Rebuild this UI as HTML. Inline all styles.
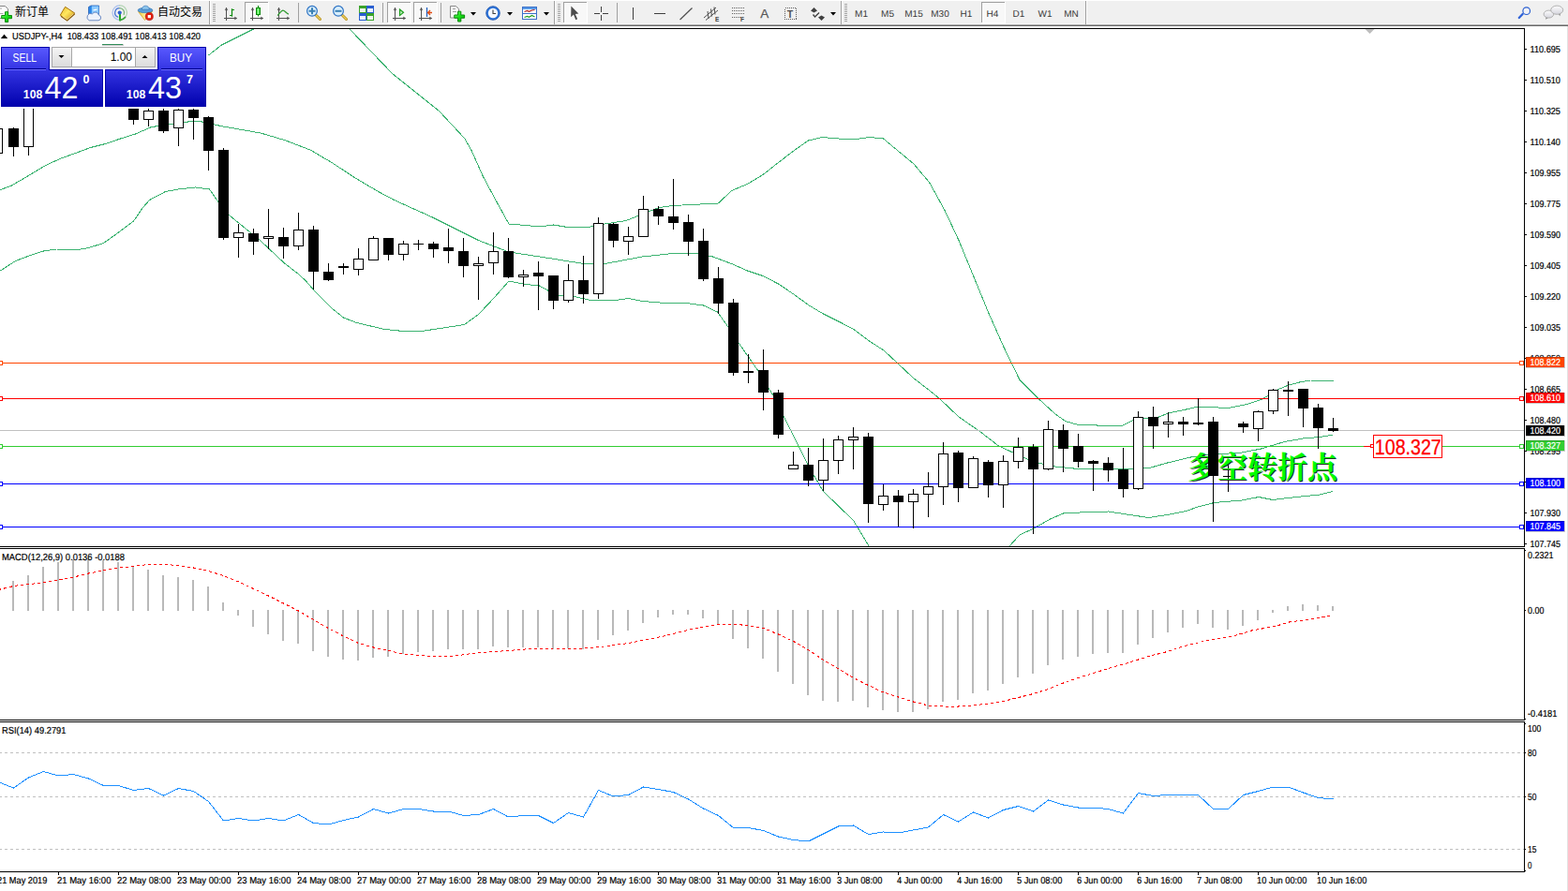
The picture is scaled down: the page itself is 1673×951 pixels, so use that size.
<!DOCTYPE html>
<html><head><meta charset="utf-8"><title>USDJPY-,H4</title>
<style>
html,body{margin:0;padding:0}
body{width:1673px;height:951px;overflow:hidden;background:#fff;position:relative;font-family:"Liberation Sans",sans-serif}
svg{position:absolute;left:0;top:0;display:block}
svg text{font-family:"Liberation Sans",sans-serif}
</style></head><body>
<svg id="chart" width="1673" height="951" viewBox="0 0 1673 951" shape-rendering="crispEdges">
<defs><clipPath id="cm"><rect x="0" y="31" width="1626" height="553"/></clipPath></defs>
<g clip-path="url(#cm)">
<g fill="none" stroke="#3cb371" stroke-width="1">
<polyline points="222.5,59 236.5,48 250.5,41 268.5,32 272.5,30"/>
<polyline points="371.5,28.5 373.5,31.5 418.5,78.5 468.5,118.5 495.5,147.5 503,160.5 515.5,188.5 530.5,216.5 543,239 560.5,240.5 575.5,242 590.5,240 605.5,242.5 628,242.5 635.5,240.5 668,235.5 680.5,230.5 703,221.5 718,219.5 766.5,217 780.5,203.5 797.5,196.5 814,186.5 830.5,173.5 847.5,160.5 862.5,150 877.5,146.5 894.5,148 909.5,149 927.5,146.5 942.5,148 957.5,160.5 974.5,174.5 991.5,194.5 1008,224.5 1023,256.5 1040,298 1055,334.5 1071.5,371.5 1079.5,388 1088,405.5 1108,425.5 1125.5,441.5 1136.5,449.5 1150.5,453.5 1170.5,454 1198,454 1210.5,448 1225.5,446.5 1236.5,445 1246.5,441 1265.5,437 1278,434 1310.5,435.5 1330.5,431.5 1345.5,426.5 1353.5,422 1363,416 1375,411 1386.5,408 1398.5,406 1422.5,406"/>
<polyline points="0.5,202.5 12.5,198 30.5,187.5 50.5,175.5 66.5,168.5 80.5,163.5 96.5,157.5 112.5,153.5 128.5,148 144.5,143 160.5,136 170.5,134 190.5,132 200.5,130 208.5,129.5 215.5,130 226.5,132.5 240.5,135.5 252.5,137.5 278,142 303.5,149.5 331,160 354,173.5 379,190 404.5,205 420.5,213.5 460.5,231.5 510.5,256.5 543,269 585.5,275.5 623,281.5 635.5,282 648,281 685.5,274 718,270.5 743,270.5 760.5,274 780.5,281.5 797.5,289 814,294.5 830.5,303 847.5,314.5 862.5,325.5 877.5,334.5 894.5,343 911,351.5 927.5,364 943,374 958,388 974.5,403.5 991.5,416.5 1003,426 1023,445 1045.5,460.5 1065.5,476 1083,484 1103,493 1125.5,498 1145.5,500 1170.5,500 1198,501 1228,499 1245.5,494 1270.5,488 1290.5,485.5 1325.5,483 1345.5,479 1370.5,471.5 1390.5,468 1408,466.5 1422.5,464"/>
<polyline points="0.5,289 16.5,278.5 32.5,272.5 46.5,268 60.5,266 70.5,266 80.5,267 94.5,264.5 110.5,259.5 124.5,249.5 142.5,236 152.5,221.5 159.5,213.5 176.5,204.5 190.5,202 208.5,200 223.5,202 233.5,216.5 242.5,228 278,257 303.5,281 318.5,292.5 326.5,300 335,310 354,329 366.5,339 380.5,344.5 410.5,351.5 425.5,353 453,353 495.5,346.5 510.5,335.5 522.5,323 543,300 560.5,303.5 575.5,305 585.5,310.5 595.5,315 610.5,316 630.5,320.5 660.5,320 670.5,318.5 685.5,321.5 710.5,323.5 735.5,324 750.5,326 765.5,333 778,350.5 790.5,369.5 808,394.5 825.5,423 845.5,463 863,498 878,524 910.5,555.5 928,584.5 930.5,588.5"/>
<polyline points="1072.5,588.5 1075.5,584.5 1088,571 1103,564 1120.5,554 1134.5,548 1160.5,546.5 1183,546 1195.5,548 1225.5,552.5 1245.5,549.5 1265.5,545.5 1278,541 1295.5,536.5 1325.5,534 1343,530.5 1358,533.5 1383,530.5 1408,528 1422.5,524.5"/>
</g>
<rect x="0" y="387" width="1626" height="1" fill="#ff4500"/>
<rect x="0" y="425" width="1626" height="1" fill="#ff0000"/>
<rect x="0" y="459" width="1626" height="1" fill="#c0c0c0"/>
<rect x="0" y="476" width="1626" height="1" fill="#32cd32"/>
<rect x="0" y="516" width="1626" height="1" fill="#0000ff"/>
<rect x="0" y="562" width="1626" height="1" fill="#0000ff"/>
<path d="M-2.5 130V170M14.5 136V167M30.5 90V166M142.5 100V133M158.5 116V135M174.5 116V142M190.5 116V156M206.5 116V149M222.5 124V182M238.5 158V256M254.5 239V275M270.5 244V272M286.5 223V266M302.5 243V276M318.5 227V267M334.5 241V309M350.5 281V300M366.5 281V293M382.5 265V294M398.5 252V278M414.5 254V278M430.5 257V278M446.5 256V267M462.5 258V275M478.5 244V281M494.5 254V296M510.5 274V320M526.5 248V293M542.5 254V297M558.5 288V306M574.5 279V331M590.5 294V330M606.5 282V323M622.5 273V324M638.5 232V319M654.5 238V264M670.5 242V272M686.5 209V253M702.5 220V240M718.5 191V245M734.5 229V273M750.5 244V300M766.5 285V335M782.5 319V401M798.5 378V409M814.5 373V438M830.5 416V468M846.5 482V501M862.5 478V519M878.5 468V524M894.5 465V506M910.5 456V501M926.5 462V558M942.5 517V545M958.5 523V562M974.5 522V564M990.5 504V552M1006.5 472V539M1022.5 481V536M1038.5 487V521M1054.5 491V531M1070.5 486V542M1086.5 467V500M1102.5 474V570M1118.5 449V502M1134.5 453V504M1150.5 463V499M1166.5 491V524M1182.5 488V514M1198.5 478V531M1214.5 439V523M1230.5 434V479M1246.5 440V467M1262.5 445V465M1278.5 425V454M1294.5 445V557M1310.5 493V525M1326.5 450V462M1342.5 438V471M1358.5 415V442M1374.5 407V444M1390.5 415V456M1406.5 431V479M1422.5 446V461" stroke="#000" stroke-width="1" fill="none"/>
<path d="M9 137h11v20h-11zM137 105h11v23h-11zM169 118h11v22h-11zM201 117h11v9h-11zM217 125h11v36h-11zM233 160h11v94h-11zM265 249h11v9h-11zM297 253h11v10h-11zM329 245h11v45h-11zM345 290h11v9h-11zM361 284h11v2h-11zM409 254h11v18h-11zM441 260h11v1h-11zM457 260h11v6h-11zM473 264h11v4h-11zM489 268h11v16h-11zM537 268h11v28h-11zM569 291h11v4h-11zM585 294h11v27h-11zM617 299h11v15h-11zM649 239h11v18h-11zM697 223h11v8h-11zM713 231h11v7h-11zM729 237h11v21h-11zM745 257h11v41h-11zM761 297h11v27h-11zM777 323h11v75h-11zM793 396h11v2h-11zM809 395h11v24h-11zM825 419h11v45h-11zM857 496h11v17h-11zM921 466h11v72h-11zM953 529h11v7h-11zM1017 483h11v38h-11zM1049 493h11v25h-11zM1097 477h11v24h-11zM1129 459h11v20h-11zM1145 476h11v17h-11zM1161 492h11v3h-11zM1177 494h11v8h-11zM1193 501h11v21h-11zM1225 445h11v10h-11zM1257 450h11v3h-11zM1273 451h11v2h-11zM1289 450h11v58h-11zM1305 508h11v1h-11zM1321 452h11v4h-11zM1369 416h11v2h-11zM1385 415h11v21h-11zM1401 435h11v22h-11zM1417 457h11v3h-11z" fill="#000"/>
<g fill="#fff" stroke="#000" stroke-width="1"><rect x="-7.5" y="137.5" width="10" height="26"/><rect x="25.5" y="95.5" width="10" height="61"/><rect x="153.5" y="118.5" width="10" height="9"/><rect x="185.5" y="117.5" width="10" height="19"/><rect x="249.5" y="248.5" width="10" height="5"/><rect x="281.5" y="252.5" width="10" height="2"/><rect x="313.5" y="245.5" width="10" height="17"/><rect x="377.5" y="276.5" width="10" height="11"/><rect x="393.5" y="254.5" width="10" height="23"/><rect x="425.5" y="260.5" width="10" height="11"/><rect x="505.5" y="281.5" width="10" height="2"/><rect x="521.5" y="268.5" width="10" height="12"/><rect x="553.5" y="293.5" width="10" height="2"/><rect x="601.5" y="299.5" width="10" height="21"/><rect x="633.5" y="238.5" width="10" height="75"/><rect x="665.5" y="252.5" width="10" height="5"/><rect x="681.5" y="223.5" width="10" height="29"/><rect x="841.5" y="496.5" width="10" height="4"/><rect x="873.5" y="491.5" width="10" height="21"/><rect x="889.5" y="469.5" width="10" height="22"/><rect x="905.5" y="466.5" width="10" height="3"/><rect x="937.5" y="529.5" width="10" height="9"/><rect x="969.5" y="527.5" width="10" height="8"/><rect x="985.5" y="519.5" width="10" height="8"/><rect x="1001.5" y="484.5" width="10" height="35"/><rect x="1033.5" y="489.5" width="10" height="31"/><rect x="1065.5" y="492.5" width="10" height="25"/><rect x="1081.5" y="477.5" width="10" height="15"/><rect x="1113.5" y="458.5" width="10" height="42"/><rect x="1209.5" y="445.5" width="10" height="76"/><rect x="1241.5" y="450.5" width="10" height="2"/><rect x="1337.5" y="439.5" width="10" height="18"/><rect x="1353.5" y="416.5" width="10" height="22"/></g>
<g shape-rendering="auto" transform="translate(1266,510)" font-size="32" font-weight="bold" style="font-family:'Liberation Serif','Noto Serif CJK SC',serif"><text x="2" y="1" fill="#1c301c" textLength="160" lengthAdjust="spacingAndGlyphs" style="font-family:'Liberation Serif','Noto Serif CJK SC',serif">多空转折点</text><text x="1" y="0" fill="#00ff00" textLength="160" lengthAdjust="spacingAndGlyphs" style="font-family:'Liberation Serif','Noto Serif CJK SC',serif">多空转折点</text></g>
<path d="M1294.5 445V557" stroke="#000" stroke-width="1" fill="none"/>
<path d="M1289 450h11v58h-11z" fill="#000"/>
<g fill="#fff" stroke="#000" stroke-width="1"></g>
</g>
<rect x="-1.5" y="385.5" width="4" height="4" fill="#fff" stroke="#ff4500"/>
<rect x="1621.5" y="385.5" width="4" height="4" fill="#fff" stroke="#ff4500"/>
<rect x="-1.5" y="423.5" width="4" height="4" fill="#fff" stroke="#ff0000"/>
<rect x="1621.5" y="423.5" width="4" height="4" fill="#fff" stroke="#ff0000"/>
<rect x="-1.5" y="474.5" width="4" height="4" fill="#fff" stroke="#32cd32"/>
<rect x="1621.5" y="474.5" width="4" height="4" fill="#fff" stroke="#32cd32"/>
<rect x="-1.5" y="514.5" width="4" height="4" fill="#fff" stroke="#0000ff"/>
<rect x="1621.5" y="514.5" width="4" height="4" fill="#fff" stroke="#0000ff"/>
<rect x="-1.5" y="560.5" width="4" height="4" fill="#fff" stroke="#0000ff"/>
<rect x="1621.5" y="560.5" width="4" height="4" fill="#fff" stroke="#0000ff"/>
<rect x="1455" y="476" width="8" height="1" fill="#ff0000"/>
<rect x="1462.5" y="474.5" width="3" height="3" fill="#fff" stroke="#ff0000"/>
<rect x="1465.5" y="464.5" width="73" height="24" fill="#fff" stroke="#ff0000"/>
<path d="M1456.5 31h10l-5 5z" fill="#bcbcbc" shape-rendering="auto"/>
<path d="M13 620h2V652h-2zM29 614h2V652h-2zM45 605h2V652h-2zM61 600h2V652h-2zM77 597h2V652h-2zM93 596h2V652h-2zM109 598h2V652h-2zM125 600h2V652h-2zM141 605h2V652h-2zM157 608h2V652h-2zM173 614h2V652h-2zM189 616h2V652h-2zM205 619h2V652h-2zM221 626h2V652h-2zM237 643h2V652h-2zM253 651h2V657h-2zM269 651h2V669h-2zM285 651h2V677h-2zM301 651h2V684h-2zM317 651h2V687h-2zM333 651h2V695h-2zM349 651h2V701h-2zM365 651h2V704h-2zM381 651h2V705h-2zM397 651h2V702h-2zM413 651h2V701h-2zM429 651h2V698h-2zM445 651h2V696h-2zM461 651h2V695h-2zM477 651h2V693h-2zM493 651h2V693h-2zM509 651h2V693h-2zM525 651h2V690h-2zM541 651h2V691h-2zM557 651h2V691h-2zM573 651h2V691h-2zM589 651h2V693h-2zM605 651h2V692h-2zM621 651h2V693h-2zM637 651h2V683h-2zM653 651h2V678h-2zM669 651h2V673h-2zM685 651h2V665h-2zM701 651h2V659h-2zM717 651h2V656h-2zM733 651h2V656h-2zM749 651h2V660h-2zM765 651h2V666h-2zM781 651h2V682h-2zM797 651h2V692h-2zM813 651h2V703h-2zM829 651h2V717h-2zM845 651h2V730h-2zM861 651h2V742h-2zM877 651h2V748h-2zM893 651h2V749h-2zM909 651h2V748h-2zM925 651h2V755h-2zM941 651h2V758h-2zM957 651h2V760h-2zM973 651h2V760h-2zM989 651h2V757h-2zM1005 651h2V749h-2zM1021 651h2V747h-2zM1037 651h2V740h-2zM1053 651h2V737h-2zM1069 651h2V730h-2zM1085 651h2V723h-2zM1101 651h2V719h-2zM1117 651h2V710h-2zM1133 651h2V704h-2zM1149 651h2V701h-2zM1165 651h2V698h-2zM1181 651h2V697h-2zM1197 651h2V697h-2zM1213 651h2V688h-2zM1229 651h2V681h-2zM1245 651h2V675h-2zM1261 651h2V670h-2zM1277 651h2V666h-2zM1293 651h2V670h-2zM1309 651h2V672h-2zM1325 651h2V668h-2zM1341 651h2V662h-2zM1357 651h2V654h-2zM1373 647h2V652h-2zM1389 645h2V652h-2zM1405 646h2V652h-2zM1421 647h2V652h-2z" fill="#b9b9b9"/>
<polyline points="-1.5,629.5 14.5,625.5 30.5,623.5 46.5,622 62.5,619 78.5,616 94.5,612 110.5,609 126.5,606 142.5,604.5 158.5,602.5 174.5,602.5 190.5,603.5 206.5,606 222.5,609.5 238.5,614.5 254.5,621 270.5,628.5 286.5,636 302.5,644 318.5,652 334.5,661.5 350.5,670.5 366.5,679 382.5,686.5 398.5,691 414.5,694.5 430.5,698 455.5,700 485.5,700 510.5,696.5 535.5,695 560.5,693 590.5,692 623,692 640.5,690.5 670.5,686.5 690.5,682.5 710.5,678.5 735.5,672 750.5,669 768,666 785.5,666 800.5,668.5 814.5,670.5 830.5,677 846.5,684.5 862.5,693.5 878.5,704.5 894.5,714 910.5,723.5 926.5,731.5 942.5,739 958.5,744 974.5,749 990.5,753 1006.5,754 1022.5,754 1038.5,753 1054.5,751 1070.5,748.5 1086.5,744.5 1102.5,740.5 1118.5,735.5 1134.5,729 1150.5,723.5 1166.5,718.5 1182.5,713.5 1198.5,709 1214.5,704 1225.5,700.5 1245.5,695.5 1260.5,690.5 1285.5,684 1315.5,679 1335.5,673 1360.5,668.5 1375.5,664 1400.5,660.5 1422.5,656.5" fill="none" stroke="#ff0000" stroke-width="1" stroke-dasharray="3 3"/>
<path d="M-1 803.5H1626" stroke="#c0c0c0" stroke-width="1" stroke-dasharray="3 3"/>
<path d="M-1 850.5H1626" stroke="#c0c0c0" stroke-width="1" stroke-dasharray="3 3"/>
<path d="M-1 906.5H1626" stroke="#c0c0c0" stroke-width="1" stroke-dasharray="3 3"/>
<polyline points="0.5,835.5 14.5,841 30.5,830 46.5,823.5 62.5,828 78.5,826.5 94.5,831 110.5,838.5 126.5,838.5 142.5,843.5 158.5,841.5 174.5,849 190.5,841.5 206.5,844.5 222.5,855.5 238.5,876 254.5,873.5 270.5,876 286.5,873.5 302.5,876 318.5,869.5 334.5,878.5 350.5,880 366.5,875.5 382.5,872 398.5,863.5 414.5,868 430.5,863.5 446.5,863.5 462.5,866 478.5,866 494.5,870.5 510.5,869.5 526.5,863.5 542.5,872 558.5,870.5 574.5,870.5 590.5,878.5 606.5,867.5 622.5,872 638.5,843.5 654.5,850 670.5,848.5 686.5,840 702.5,842.5 718.5,845.5 734.5,853 750.5,863 766.5,870.5 782.5,883.5 798.5,883.5 814.5,886.5 830.5,893 846.5,896.5 862.5,898 878.5,890 894.5,882 910.5,881 926.5,890.5 942.5,888 958.5,889 974.5,886 990.5,883 1006.5,869.5 1022.5,877 1038.5,867 1054.5,873 1070.5,864.5 1086.5,860.5 1102.5,866 1118.5,854 1134.5,859 1150.5,862 1166.5,862 1182.5,863.5 1198.5,868 1214.5,846.5 1230.5,849.5 1246.5,848.5 1262.5,848.5 1278.5,848.5 1294.5,863.5 1310.5,863.5 1326.5,848.5 1342.5,844.5 1358.5,840 1374.5,840 1390.5,846 1406.5,851.5 1422.5,853" fill="none" stroke="#1e90ff" stroke-width="1"/>
<rect x="0" y="30" width="1627" height="1" fill="#000"/>
<rect x="1626" y="30" width="1" height="554" fill="#000"/>
<rect x="1626" y="585" width="1" height="184" fill="#000"/>
<rect x="1626" y="770" width="1" height="161" fill="#000"/>
<rect x="0" y="583" width="1627" height="1" fill="#000"/>
<rect x="0" y="585" width="1627" height="1" fill="#000"/>
<rect x="0" y="768" width="1627" height="1" fill="#000"/>
<rect x="0" y="770" width="1627" height="1" fill="#000"/>
<rect x="0" y="930" width="1627" height="1" fill="#000"/>
<rect x="1672" y="28" width="1" height="923" fill="#e3e3e3"/>
<path d="M-2.5 931v3M62.5 931v3M126.5 931v3M190.5 931v3M254.5 931v3M318.5 931v3M382.5 931v3M446.5 931v3M510.5 931v3M574.5 931v3M638.5 931v3M702.5 931v3M766.5 931v3M830.5 931v3M894.5 931v3M958.5 931v3M1022.5 931v3M1086.5 931v3M1150.5 931v3M1214.5 931v3M1278.5 931v3M1342.5 931v3M1406.5 931v3" stroke="#000" stroke-width="1"/>
<path d="M1627 52.5h2M1627 85.5h2M1627 118.5h2M1627 151.5h2M1627 184.5h2M1627 217.5h2M1627 250.5h2M1627 283.5h2M1627 316.5h2M1627 349.5h2M1627 382.5h2M1627 415.5h2M1627 448.5h2M1627 481.5h2M1627 514.5h2M1627 547.5h2M1627 580.5h2M1627 651.5h1M1627 803.5h1M1627 850.5h1M1627 906.5h1M1627 587.5h1M1627 767.5h1M1627 772.5h1M1627 929.5h1" stroke="#000" stroke-width="1"/>
<g shape-rendering="auto" font-family="Liberation Sans, sans-serif" font-size="10.2" fill="#000" stroke="#000" stroke-width=".2" text-rendering="geometricPrecision">
<text x="1632.5" y="56" textLength="32.4" lengthAdjust="spacingAndGlyphs">110.695</text>
<text x="1632.5" y="89" textLength="32.4" lengthAdjust="spacingAndGlyphs">110.510</text>
<text x="1632.5" y="122" textLength="32.4" lengthAdjust="spacingAndGlyphs">110.325</text>
<text x="1632.5" y="155" textLength="32.4" lengthAdjust="spacingAndGlyphs">110.140</text>
<text x="1632.5" y="188" textLength="32.4" lengthAdjust="spacingAndGlyphs">109.955</text>
<text x="1632.5" y="221" textLength="32.4" lengthAdjust="spacingAndGlyphs">109.775</text>
<text x="1632.5" y="254" textLength="32.4" lengthAdjust="spacingAndGlyphs">109.590</text>
<text x="1632.5" y="287" textLength="32.4" lengthAdjust="spacingAndGlyphs">109.405</text>
<text x="1632.5" y="320" textLength="32.4" lengthAdjust="spacingAndGlyphs">109.220</text>
<text x="1632.5" y="353" textLength="32.4" lengthAdjust="spacingAndGlyphs">109.035</text>
<text x="1632.5" y="386" textLength="32.4" lengthAdjust="spacingAndGlyphs">108.850</text>
<text x="1632.5" y="419" textLength="32.4" lengthAdjust="spacingAndGlyphs">108.665</text>
<text x="1632.5" y="452" textLength="32.4" lengthAdjust="spacingAndGlyphs">108.480</text>
<text x="1632.5" y="485" textLength="32.4" lengthAdjust="spacingAndGlyphs">108.295</text>
<text x="1632.5" y="518" textLength="32.4" lengthAdjust="spacingAndGlyphs">108.110</text>
<text x="1632.5" y="551" textLength="32.4" lengthAdjust="spacingAndGlyphs">107.930</text>
<text x="1632.5" y="584" textLength="32.4" lengthAdjust="spacingAndGlyphs">107.745</text>
<text x="1630" y="596" textLength="27.4" lengthAdjust="spacingAndGlyphs">0.2321</text>
<text x="1630" y="655" textLength="17.4" lengthAdjust="spacingAndGlyphs">0.00</text>
<text x="1630" y="765" textLength="31.4" lengthAdjust="spacingAndGlyphs">-0.4181</text>
<text x="1630" y="781" textLength="14.4" lengthAdjust="spacingAndGlyphs">100</text>
<text x="1630" y="807" textLength="9.4" lengthAdjust="spacingAndGlyphs">80</text>
<text x="1630" y="854" textLength="9.4" lengthAdjust="spacingAndGlyphs">50</text>
<text x="1630" y="910" textLength="9.4" lengthAdjust="spacingAndGlyphs">15</text>
<text x="1630" y="927" textLength="4.4" lengthAdjust="spacingAndGlyphs">0</text>
<text x="-3" y="943" textLength="53.4" lengthAdjust="spacingAndGlyphs">21 May 2019</text>
<text x="61" y="943" textLength="57.4" lengthAdjust="spacingAndGlyphs">21 May 16:00</text>
<text x="125" y="943" textLength="57.4" lengthAdjust="spacingAndGlyphs">22 May 08:00</text>
<text x="189" y="943" textLength="57.4" lengthAdjust="spacingAndGlyphs">23 May 00:00</text>
<text x="253" y="943" textLength="57.4" lengthAdjust="spacingAndGlyphs">23 May 16:00</text>
<text x="317" y="943" textLength="57.4" lengthAdjust="spacingAndGlyphs">24 May 08:00</text>
<text x="381" y="943" textLength="57.4" lengthAdjust="spacingAndGlyphs">27 May 00:00</text>
<text x="445" y="943" textLength="57.4" lengthAdjust="spacingAndGlyphs">27 May 16:00</text>
<text x="509" y="943" textLength="57.4" lengthAdjust="spacingAndGlyphs">28 May 08:00</text>
<text x="573" y="943" textLength="57.4" lengthAdjust="spacingAndGlyphs">29 May 00:00</text>
<text x="637" y="943" textLength="57.4" lengthAdjust="spacingAndGlyphs">29 May 16:00</text>
<text x="701" y="943" textLength="57.4" lengthAdjust="spacingAndGlyphs">30 May 08:00</text>
<text x="765" y="943" textLength="57.4" lengthAdjust="spacingAndGlyphs">31 May 00:00</text>
<text x="829" y="943" textLength="57.4" lengthAdjust="spacingAndGlyphs">31 May 16:00</text>
<text x="893" y="943" textLength="48.4" lengthAdjust="spacingAndGlyphs">3 Jun 08:00</text>
<text x="957" y="943" textLength="48.4" lengthAdjust="spacingAndGlyphs">4 Jun 00:00</text>
<text x="1021" y="943" textLength="48.4" lengthAdjust="spacingAndGlyphs">4 Jun 16:00</text>
<text x="1085" y="943" textLength="48.4" lengthAdjust="spacingAndGlyphs">5 Jun 08:00</text>
<text x="1149" y="943" textLength="48.4" lengthAdjust="spacingAndGlyphs">6 Jun 00:00</text>
<text x="1213" y="943" textLength="48.4" lengthAdjust="spacingAndGlyphs">6 Jun 16:00</text>
<text x="1277" y="943" textLength="48.4" lengthAdjust="spacingAndGlyphs">7 Jun 08:00</text>
<text x="1341" y="943" textLength="53.4" lengthAdjust="spacingAndGlyphs">10 Jun 00:00</text>
<text x="1405" y="943" textLength="53.4" lengthAdjust="spacingAndGlyphs">10 Jun 16:00</text>
<text x="2" y="597.5" textLength="131" lengthAdjust="spacingAndGlyphs">MACD(12,26,9) 0.0136 -0.0188</text>
<text x="2" y="782.5" textLength="68.5" lengthAdjust="spacingAndGlyphs">RSI(14) 49.2791</text>
<text x="13" y="42" textLength="201" lengthAdjust="spacingAndGlyphs" xml:space="preserve">USDJPY-,H4  108.433 108.491 108.413 108.420</text>
<path d="M1 41L4.5 36.7L8 41z" fill="#000"/>
<rect x="109" y="47" width="22" height="1" fill="#3cb371" shape-rendering="crispEdges"/>
<rect x="1628" y="381" width="41" height="11" fill="#ff4500" shape-rendering="crispEdges"/>
<text x="1632.5" y="390" textLength="32.4" lengthAdjust="spacingAndGlyphs" fill="#fff" stroke="#fff">108.822</text>
<rect x="1628" y="419" width="41" height="11" fill="#ff0000" shape-rendering="crispEdges"/>
<text x="1632.5" y="428" textLength="32.4" lengthAdjust="spacingAndGlyphs" fill="#fff" stroke="#fff">108.610</text>
<rect x="1628" y="454" width="41" height="11" fill="#000" shape-rendering="crispEdges"/>
<text x="1632.5" y="463" textLength="32.4" lengthAdjust="spacingAndGlyphs" fill="#fff" stroke="#fff">108.420</text>
<rect x="1628" y="470" width="41" height="11" fill="#32cd32" shape-rendering="crispEdges"/>
<text x="1632.5" y="479" textLength="32.4" lengthAdjust="spacingAndGlyphs" fill="#fff" stroke="#fff">108.327</text>
<rect x="1628" y="510" width="41" height="11" fill="#0000ff" shape-rendering="crispEdges"/>
<text x="1632.5" y="519" textLength="32.4" lengthAdjust="spacingAndGlyphs" fill="#fff" stroke="#fff">108.100</text>
<rect x="1628" y="556" width="41" height="11" fill="#0000ff" shape-rendering="crispEdges"/>
<text x="1632.5" y="565" textLength="32.4" lengthAdjust="spacingAndGlyphs" fill="#fff" stroke="#fff">107.845</text>
<text x="1466.8" y="485.2" font-size="23" fill="#ff0000" stroke="#ff0000" stroke-width=".3" textLength="71" lengthAdjust="spacingAndGlyphs">108.327</text>
</g>
</svg>
<svg id="panel" width="240" height="120" viewBox="0 0 240 120">
<defs>
<linearGradient id="gb" gradientUnits="userSpaceOnUse" x1="0" y1="50" x2="0" y2="114"><stop offset="0" stop-color="#5a5aff"/><stop offset="0.38" stop-color="#3434e2"/><stop offset="1" stop-color="#0000ac"/></linearGradient>
<linearGradient id="gg" x1="0" y1="0" x2="0" y2="1"><stop offset="0" stop-color="#f4f4f4"/><stop offset="1" stop-color="#dcdcdc"/></linearGradient>
</defs>
<g shape-rendering="crispEdges">
<rect x="0" y="49" width="222" height="67" fill="#fff"/>
<path d="M1.5 50.5H52.5V74.5H109.5V113.5H1.5z" fill="url(#gb)" stroke="#0000a8"/>
<path d="M168.5 50.5H219.5V113.5H112.5V74.5H168.5z" fill="url(#gb)" stroke="#0000a8"/>
<rect x="5" y="73" width="44" height="1" fill="#00008c"/><rect x="5" y="74" width="44" height="1" fill="#6c6cff"/>
<rect x="172" y="73" width="44" height="1" fill="#00008c"/><rect x="172" y="74" width="44" height="1" fill="#6c6cff"/>
<rect x="55.5" y="50.5" width="110" height="21" fill="#fff" stroke="#a8a8a8"/>
<rect x="56" y="51" width="20" height="20" fill="url(#gg)"/>
<rect x="145" y="51" width="20" height="20" fill="url(#gg)"/>
<rect x="76" y="51" width="1" height="20" fill="#a8a8a8"/>
<rect x="144" y="51" width="1" height="20" fill="#a8a8a8"/>
</g>
<path d="M62.5 59h6l-3 3z" fill="#000"/>
<path d="M151.5 62h6l-3-3z" fill="#000"/>
<g fill="#fff">
<text x="13.5" y="66" font-size="12.3" textLength="25.5" lengthAdjust="spacingAndGlyphs">SELL</text>
<text x="181" y="66" font-size="12.3" textLength="24" lengthAdjust="spacingAndGlyphs">BUY</text>
<text x="24.8" y="105" font-size="12.5" font-weight="bold" textLength="20.5" lengthAdjust="spacingAndGlyphs">108</text>
<text x="47.5" y="105" font-size="34" textLength="36" lengthAdjust="spacingAndGlyphs">42</text>
<text x="88.5" y="89" font-size="12.5" font-weight="bold">0</text>
<text x="134.8" y="105" font-size="12.5" font-weight="bold" textLength="20.5" lengthAdjust="spacingAndGlyphs">108</text>
<text x="158" y="105" font-size="34" textLength="36" lengthAdjust="spacingAndGlyphs">43</text>
<text x="199" y="89" font-size="12.5" font-weight="bold">7</text>
</g>
<text x="141" y="64.5" font-size="12" fill="#000" text-anchor="end">1.00</text>
</svg>
<svg id="toolbar" width="1673" height="30" viewBox="0 0 1673 30">
<g shape-rendering="crispEdges"><rect x="0" y="0" width="1673" height="26" fill="#f0f0f0"/>
<rect x="0" y="0" width="1673" height="1" fill="#fff"/>
<rect x="0" y="25" width="1673" height="1" fill="#f6f6f6"/>
<rect x="0" y="26" width="1673" height="1" fill="#a8a8a8"/>
<rect x="0" y="27" width="1673" height="1" fill="#6a6a6a"/></g>
<defs><linearGradient id="gp" x1="0" y1="0" x2="1" y2="1"><stop offset="0" stop-color="#7dff7d"/><stop offset="0.5" stop-color="#18e018"/><stop offset="1" stop-color="#08b008"/></linearGradient></defs>
<g><path d="M-4 6.5H5.5L8.5 9.5V19.5H-4z" fill="#fdfdfd" stroke="#858585"/><path d="M-2 9H2M-2 14.5H3.5" stroke="#a8a8a8" stroke-width="1.2"/><path d="M5.5 12.7h3.2v3.8h3.8v3.2h-3.8v3.8h-3.2v-3.8h-3.8v-3.2h3.8z" fill="url(#gp)" stroke="#0a8a0a" stroke-width="1"/></g>
<text x="16" y="16.9" font-size="12" fill="#000" style="font-family:'Liberation Sans','Noto Sans CJK SC',sans-serif">新订单</text>
<defs><linearGradient id="yb" x1="0" y1="0" x2="1" y2="1"><stop offset="0" stop-color="#e8b830"/><stop offset="0.45" stop-color="#ffe860"/><stop offset="1" stop-color="#c98a12"/></linearGradient></defs>
<path d="M69.6 7.3L79.7 14L71.5 21.5L64.3 16.2C66 13 68 10 69.6 7.3z" fill="url(#yb)" stroke="#a87510" stroke-width="1"/><path d="M65 17.2L71.7 22L79.7 14.8" fill="none" stroke="#8a5a08" stroke-width="1.3"/><path d="M66.5 17.3L71.6 20.8L78.5 14.7" fill="none" stroke="#fff2c0" stroke-width=".7"/>
<g><path d="M94.5 7.5l2.5-1.5h8.5v9.5h-11z" fill="#2a86e8" stroke="#2a62b8" stroke-width=".8"/><path d="M97.8 6.5h7.5v9h-7.5z" fill="#8ccaff"/><path d="M99.5 10.2l4-.8v1.3l-4 .8z" fill="#fff"/><path d="M95.2 21.8h9.8a2.9 2.9 0 0 0 .4-5.7a3.8 3.8 0 0 0-6.9-1.3a3.5 3.5 0 0 0-3.3 7z" fill="#eef3fc" stroke="#5f7fbc" stroke-width=".9"/></g>
<g fill="none" stroke-linecap="round"><path d="M127.7 5.9a7.7 7.7 0 0 0 0 15.4" stroke="#a9bfee" stroke-width="1.2"/><path d="M127.7 5.9a7.7 7.7 0 0 1 5.5 13" stroke="#b5d6b5" stroke-width="1.2"/><path d="M127.7 8.6a5 5 0 0 0-2 9.6" stroke="#4a78d8" stroke-width="1.3"/><path d="M127.7 8.6a5 5 0 0 1 4.5 7" stroke="#7fb87f" stroke-width="1.3"/><path d="M128 14V21.5" stroke="#22aa22" stroke-width="2"/><path d="M128 21.5a8 8 0 0 0 5.5-3" stroke="#3aa53a" stroke-width="1.8"/><circle cx="127.7" cy="13.6" r="2.1" fill="#2f62d0" stroke="none"/></g>
<defs><linearGradient id="hy" x1="0" y1="0" x2="1" y2="0"><stop offset="0" stop-color="#f0c830"/><stop offset="0.5" stop-color="#fff0a0"/><stop offset="1" stop-color="#e8b820"/></linearGradient></defs>
<g><path d="M147.6 12.5L162.5 12.5L154.5 21.5z" fill="url(#hy)" stroke="#c99a20" stroke-width=".7"/><ellipse cx="155" cy="11" rx="7.9" ry="2.7" fill="#5b9fd8" stroke="#3a78b8" stroke-width=".7"/><path d="M151.3 10.3c0-5.5 8-5.5 8 0z" fill="#8cc4ec" stroke="#3a78b8" stroke-width=".7"/><circle cx="159.3" cy="17.6" r="4.1" fill="#e02010" stroke="#a00000" stroke-width=".5"/><rect x="157.7" y="16" width="3.2" height="3.2" fill="#fff"/></g>
<text x="168" y="16.9" font-size="12" fill="#000" style="font-family:'Liberation Sans','Noto Sans CJK SC',sans-serif">自动交易</text>
<rect x="223" y="1" width="1" height="25" fill="#a0a0a0" shape-rendering="crispEdges"/><rect x="224" y="1" width="1" height="25" fill="#fff" shape-rendering="crispEdges"/>
<path d="M227 4.5h3M227 6.5h3M227 8.5h3M227 10.5h3M227 12.5h3M227 14.5h3M227 16.5h3M227 18.5h3M227 20.5h3M227 22.5h3" stroke="#a4a4a4" stroke-width="1" shape-rendering="crispEdges"/>
<g stroke="#505050" stroke-width="1" fill="none"><path d="M241.5 22V8.2M239 19.5H252.5"/><path d="M240.1 10.8l1.4-2.6l1.4 2.6zM250.5 18l2.3 1.5l-2.3 1.5z" fill="#505050" stroke-width=".4"/></g>
<path d="M247.5 9.2v8.6M245 16.5h2.5M247.5 10.5h2.5" stroke="#0a8a0a" stroke-width="1.2" fill="none"/>
<g shape-rendering="crispEdges"><rect x="261" y="2" width="26" height="23" fill="#f8f8f8"/><rect x="261" y="2" width="25" height="1" fill="#a0a0a0"/><rect x="261" y="2" width="1" height="22" fill="#a0a0a0"/><rect x="286" y="2" width="1" height="23" fill="#fff"/><rect x="261" y="24" width="26" height="1" fill="#fff"/></g>
<g stroke="#505050" stroke-width="1" fill="none"><path d="M269.5 22V8.2M267 19.5H280.5"/><path d="M268.1 10.8l1.4-2.6l1.4 2.6zM278.5 18l2.3 1.5l-2.3 1.5z" fill="#505050" stroke-width=".4"/></g>
<defs><linearGradient id="cg" x1="0" y1="0" x2="1" y2="0"><stop offset="0" stop-color="#20d020"/><stop offset="0.5" stop-color="#90ff90"/><stop offset="1" stop-color="#18c818"/></linearGradient></defs><path d="M275.5 6v11.5" stroke="#0a8a0a" stroke-width="1.1"/><rect x="273.5" y="8.5" width="4" height="7" fill="url(#cg)" stroke="#0a8a0a" stroke-width="1"/>
<g stroke="#505050" stroke-width="1" fill="none"><path d="M297.5 22V8.2M295 19.5H308.5"/><path d="M296.1 10.8l1.4-2.6l1.4 2.6zM306.5 18l2.3 1.5l-2.3 1.5z" fill="#505050" stroke-width=".4"/></g>
<path d="M296.2 16.6C298.5 14 300 11.2 301.9 11.1S305 14 307.9 15.2" stroke="#2f9a2f" stroke-width="1.3" fill="none"/>
<rect x="318" y="3" width="1" height="21" fill="#a0a0a0" shape-rendering="crispEdges"/>
<g><path d="M337.5 16.5l4 4" stroke="#b8901c" stroke-width="3" stroke-linecap="round"/><path d="M337.5 16.5l4 4" stroke="#ecd060" stroke-width="1.2" stroke-linecap="round"/><circle cx="333" cy="11.8" r="5.4" fill="#d8eefc" stroke="#2f74c4" stroke-width="1.2"/><path d="M329.5 11.8h7M333 8.3v7" stroke="#3a80b4" stroke-width="2" fill="none"/></g>
<g><path d="M365.5 16.5l4 4" stroke="#b8901c" stroke-width="3" stroke-linecap="round"/><path d="M365.5 16.5l4 4" stroke="#ecd060" stroke-width="1.2" stroke-linecap="round"/><circle cx="361" cy="11.8" r="5.4" fill="#d8eefc" stroke="#2f74c4" stroke-width="1.2"/><path d="M357.5 11.8h7" stroke="#3a80b4" stroke-width="2" fill="none"/></g>
<g shape-rendering="crispEdges"><rect x="383" y="6" width="8" height="8" fill="#3aa32a"/><rect x="391" y="6" width="8" height="8" fill="#2a5fd0"/><rect x="383" y="14" width="8" height="8" fill="#2a5fd0"/><rect x="391" y="14" width="8" height="8" fill="#3aa32a"/><rect x="384" y="9" width="6" height="4" fill="#eef6ee"/><rect x="392" y="9" width="6" height="4" fill="#eef2fb"/><rect x="384" y="17" width="6" height="4" fill="#eef2fb"/><rect x="392" y="17" width="6" height="4" fill="#eef6ee"/></g>
<rect x="408" y="3" width="1" height="21" fill="#a0a0a0" shape-rendering="crispEdges"/>
<g shape-rendering="crispEdges"><rect x="413" y="2" width="26" height="23" fill="#f8f8f8"/><rect x="413" y="2" width="25" height="1" fill="#a0a0a0"/><rect x="413" y="2" width="1" height="22" fill="#a0a0a0"/><rect x="438" y="2" width="1" height="23" fill="#fff"/><rect x="413" y="24" width="26" height="1" fill="#fff"/></g>
<g stroke="#505050" stroke-width="1" fill="none"><path d="M421.5 22V8.2M419 19.5H432.5"/><path d="M420.1 10.8l1.4-2.6l1.4 2.6zM430.5 18l2.3 1.5l-2.3 1.5z" fill="#505050" stroke-width=".4"/></g>
<path d="M426.5 10l4 3.3l-4 3.3z" fill="#baf0ba" stroke="#1e9e1e" stroke-width="1.2"/>
<g shape-rendering="crispEdges"><rect x="441" y="2" width="26" height="23" fill="#f8f8f8"/><rect x="441" y="2" width="25" height="1" fill="#a0a0a0"/><rect x="441" y="2" width="1" height="22" fill="#a0a0a0"/><rect x="466" y="2" width="1" height="23" fill="#fff"/><rect x="441" y="24" width="26" height="1" fill="#fff"/></g>
<g stroke="#505050" stroke-width="1" fill="none"><path d="M449.5 22V8.2M447 19.5H460.5"/><path d="M448.1 10.8l1.4-2.6l1.4 2.6zM458.5 18l2.3 1.5l-2.3 1.5z" fill="#505050" stroke-width=".4"/></g>
<path d="M455.5 8v10" stroke="#2060c0" stroke-width="1.3"/><path d="M461 13.5h-4M459 11l-2.5 2.5l2.5 2.5" stroke="#e04a10" stroke-width="1.3" fill="none"/>
<rect x="470" y="3" width="1" height="21" fill="#a0a0a0" shape-rendering="crispEdges"/>
<g><path d="M480.5 6.5h6l3 3v9.5h-9z" fill="#fafafa" stroke="#8a8a8a"/><path d="M483 9.5h3M483 12.5h4" stroke="#a0a0a0"/><path d="M488.6 12.2h3.2v3.8h3.8v3.2h-3.8v3.8h-3.2v-3.8h-3.8v-3.2h3.8z" fill="url(#gp)" stroke="#0a8a0a"/></g>
<path d="M502 13h6l-3 3.5z" fill="#000"/>
<g><circle cx="526" cy="14" r="7.3" fill="#2d74da" stroke="#1a4fa8" stroke-width=".8"/><circle cx="526" cy="14" r="5.2" fill="#f4f8fd"/><path d="M526 10.5V14.5h3" stroke="#404040" stroke-width="1.1" fill="none"/></g>
<path d="M541 13h6l-3 3.5z" fill="#000"/>
<g shape-rendering="crispEdges"><rect x="557.5" y="7.5" width="15" height="13" fill="#fff" stroke="#3a6fc8"/><rect x="558" y="8" width="14" height="2" fill="#5a9be8"/><rect x="558" y="14" width="14" height="1" fill="#3a6fc8"/></g><path d="M559.5 12.5l3-1l2 .8l3-1.3l3-.5" stroke="#b02020" stroke-width="1.2" fill="none"/><path d="M559.5 18.5l3-1l2 .8l3-1.8l3 1.5" stroke="#20a020" stroke-width="1.2" fill="none"/>
<path d="M580 13h6l-3 3.5z" fill="#000"/>
<rect x="591" y="1" width="1" height="25" fill="#a0a0a0" shape-rendering="crispEdges"/><rect x="592" y="1" width="1" height="25" fill="#fff" shape-rendering="crispEdges"/>
<path d="M595 4.5h3M595 6.5h3M595 8.5h3M595 10.5h3M595 12.5h3M595 14.5h3M595 16.5h3M595 18.5h3M595 20.5h3M595 22.5h3" stroke="#a4a4a4" stroke-width="1" shape-rendering="crispEdges"/>
<g shape-rendering="crispEdges"><rect x="601" y="2" width="26" height="23" fill="#f8f8f8"/><rect x="601" y="2" width="25" height="1" fill="#a0a0a0"/><rect x="601" y="2" width="1" height="22" fill="#a0a0a0"/><rect x="626" y="2" width="1" height="23" fill="#fff"/><rect x="601" y="24" width="26" height="1" fill="#fff"/></g>
<path d="M609.4 6.6L609.2 18.2L612 15.6L614.3 21.2L616.1 20.3L613.8 14.9L617.3 14.6z" fill="#4c4c4c"/>
<path d="M641.5 7v6M641.5 16v6M634 14.5h6M643 14.5h6" stroke="#404040" stroke-width="1" shape-rendering="crispEdges"/>
<rect x="658" y="3" width="1" height="21" fill="#a0a0a0" shape-rendering="crispEdges"/>
<path d="M675.5 8v13M698 14.5h12" stroke="#404040" stroke-width="1" shape-rendering="crispEdges"/>
<path d="M725.5 21L738.5 8.5" stroke="#505050" stroke-width="1.2"/>
<g stroke="#505050" stroke-width="1" fill="none"><path d="M751 19L764 8M753 21.5L766 11M755 12l1 8M758.5 9.5l1 8M762 7.5l1 8"/></g><text x="763" y="23" font-size="6.5" font-weight="bold" fill="#404040">E</text>
<g stroke="#606060" stroke-width="1" stroke-dasharray="1 1" shape-rendering="crispEdges"><path d="M781 8.5h13M781 11.5h13M781 14.5h13M781 18.5h9"/></g><text x="790" y="23" font-size="6.5" font-weight="bold" fill="#404040">F</text>
<text x="811.3" y="19.3" font-size="13.5" fill="#585858" stroke="#585858" stroke-width=".25">A</text>
<rect x="837.5" y="8.5" width="12" height="12" fill="none" stroke="#606060" stroke-dasharray="1 1" shape-rendering="crispEdges"/><text x="839.8" y="19" font-size="10.5" font-weight="bold" fill="#505050">T</text>
<g fill="#404040"><path d="M865 11.5l3.5-3.5l3.5 3.5l-3.5 2z"/><path d="M873 18.5l3.5 3.5l3.5-3.5l-3.5-2z"/><path d="M867.5 15.5l2 2.5l4.5-4.5" stroke="#404040" stroke-width="1.3" fill="none"/></g>
<path d="M886 13h6l-3 3.5z" fill="#000"/>
<rect x="897" y="1" width="1" height="25" fill="#a0a0a0" shape-rendering="crispEdges"/><rect x="898" y="1" width="1" height="25" fill="#fff" shape-rendering="crispEdges"/>
<path d="M901 4.5h3M901 6.5h3M901 8.5h3M901 10.5h3M901 12.5h3M901 14.5h3M901 16.5h3M901 18.5h3M901 20.5h3M901 22.5h3" stroke="#a4a4a4" stroke-width="1" shape-rendering="crispEdges"/>
<g shape-rendering="crispEdges"><rect x="1047" y="2" width="26" height="23" fill="#f8f8f8"/><rect x="1047" y="2" width="25" height="1" fill="#a0a0a0"/><rect x="1047" y="2" width="1" height="22" fill="#a0a0a0"/><rect x="1072" y="2" width="1" height="23" fill="#fff"/><rect x="1047" y="24" width="26" height="1" fill="#fff"/></g>
<g font-size="10" fill="#383838" text-anchor="middle" text-rendering="geometricPrecision">
<text x="919" y="18">M1</text>
<text x="947" y="18">M5</text>
<text x="975" y="18">M15</text>
<text x="1003" y="18">M30</text>
<text x="1031" y="18">H1</text>
<text x="1059" y="18">H4</text>
<text x="1087" y="18">D1</text>
<text x="1115" y="18">W1</text>
<text x="1143" y="18">MN</text>
</g>
<rect x="1158" y="1" width="1" height="25" fill="#a0a0a0" shape-rendering="crispEdges"/><rect x="1159" y="1" width="1" height="25" fill="#fff" shape-rendering="crispEdges"/>
<g><path d="M1620.8 19l3.8-4" stroke="#2f62d8" stroke-width="2.3" stroke-linecap="round"/><circle cx="1628.7" cy="11.7" r="3.8" fill="#f2f2f6" stroke="#2a5fd0" stroke-width="1.2"/></g>
<defs><linearGradient id="bb" x1="0" y1="0" x2="0" y2="1"><stop offset="0" stop-color="#fcfcfc"/><stop offset="1" stop-color="#d6d6de"/></linearGradient></defs>
<g fill="url(#bb)" stroke="#a8a8a8" stroke-width=".9"><path d="M1649.5 18.5l-.3 2.3l2.6-1.8" fill="#808080" stroke="none"/><ellipse cx="1652.4" cy="15.1" rx="5.3" ry="4"/><path d="M1663 15l1.3 2.3l.5-2.6" fill="#808080" stroke="none"/><ellipse cx="1661.2" cy="10.7" rx="6.5" ry="4.6"/></g>
</svg>
</body></html>
